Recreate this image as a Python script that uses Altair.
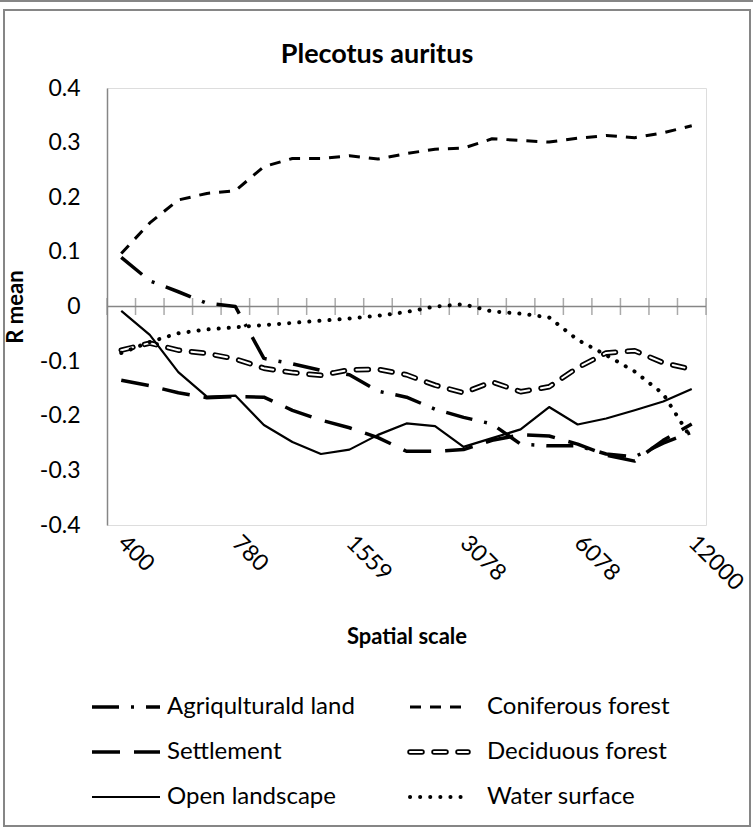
import json
import altair as alt
import pandas as pd

# ---------------- data ----------------
title_text = "Plecotus auritus"
x_title = "Spatial scale"
y_title = "R mean"
scale_labels = ["400", "780", "1559", "3078", "6078", "12000"]
label_every = 4
n_cat = 21
y_ticks = [-0.4, -0.3, -0.2, -0.1, 0.0, 0.1, 0.2, 0.3, 0.4]

series_names = ["Agriqulturald land", "Coniferous forest", "Settlement",
                "Deciduous forest", "Open landscape", "Water surface"]

agri = [0.090, 0.047, 0.027, 0.006, 0.000, -0.095, -0.105, -0.117, -0.125, -0.155, -0.166,
        -0.188, -0.203, -0.215, -0.252, -0.255, -0.255, -0.270, -0.275, -0.250, -0.230]
conif = [0.097, 0.153, 0.195, 0.207, 0.212, 0.256, 0.271, 0.271, 0.276, 0.270, 0.280,
         0.288, 0.290, 0.307, 0.304, 0.301, 0.308, 0.313, 0.309, 0.318, 0.331]
settle = [-0.135, -0.145, -0.158, -0.167, -0.165, -0.166, -0.190, -0.208, -0.222, -0.240, -0.265,
          -0.265, -0.262, -0.245, -0.235, -0.237, -0.252, -0.272, -0.283, -0.245, -0.215]
decid = [-0.080, -0.067, -0.080, -0.086, -0.096, -0.113, -0.121, -0.126, -0.116, -0.115, -0.125,
         -0.144, -0.158, -0.138, -0.156, -0.147, -0.112, -0.085, -0.081, -0.103, -0.115]
openl = [-0.008, -0.052, -0.120, -0.165, -0.163, -0.217, -0.248, -0.270, -0.262, -0.235, -0.214,
         -0.219, -0.257, -0.241, -0.225, -0.184, -0.216, -0.205, -0.190, -0.174, -0.151]
water = [-0.085, -0.065, -0.049, -0.042, -0.038, -0.034, -0.030, -0.026, -0.022, -0.017, -0.010,
         0.000, 0.004, -0.009, -0.013, -0.020, -0.061, -0.089, -0.119, -0.160, -0.243]

series_values = [agri, conif, settle, decid, openl, water]

rows = []
for name, vals in zip(series_names, series_values):
    for i, v in enumerate(vals):
        rows.append({"series": name, "idx": i, "value": v})
df = pd.DataFrame(rows)

# ---------------- styles / layout ----------------
FONT = "Lato"
GRAY = "#868686"
W, H = 599, 437
LEFT, TOP = 107, 88
CANVAS_W, CANVAS_H = 753, 832

styles = {
    "Agriqulturald land": dict(strokeWidth=3.5, strokeDash=[27, 12, 3, 12], strokeCap="butt"),
    "Coniferous forest": dict(strokeWidth=3, strokeDash=[11, 9], strokeCap="butt"),
    "Settlement": dict(strokeWidth=3.5, strokeDash=[28, 14], strokeCap="butt"),
    "Deciduous forest": dict(strokeWidth=5.5, strokeDash=[12, 12], strokeCap="round"),
    "Open landscape": dict(strokeWidth=2.2, strokeCap="butt"),
    "Water surface": dict(strokeWidth=4, strokeDash=[0.1, 10], strokeCap="round"),
}
decid_inner = dict(strokeWidth=2, strokeDash=[12, 12], strokeCap="round")

label_expr = f"{json.dumps(scale_labels)}[round(datum.value / {label_every})]"

x_enc = alt.X(
    "idx:Q",
    scale=alt.Scale(domain=[-0.5, n_cat - 0.5], nice=False, zero=False),
    axis=alt.Axis(
        values=list(range(0, n_cat, label_every)),
        labelExpr=label_expr,
        labelAngle=45, labelAlign="left", labelBaseline="middle",
        labelPadding=14, labelFont=FONT, labelFontSize=23, labelColor="black",
        domain=False, ticks=False, grid=False,
        title=x_title, titleFont=FONT, titleFontSize=22, titleFontWeight="bold",
        titleColor="black", titleY=111, titleBaseline="middle",
    ),
)
y_enc = alt.Y(
    "value:Q",
    scale=alt.Scale(domain=[-0.4, 0.4], nice=False),
    axis=alt.Axis(
        values=y_ticks,
        labelExpr="datum.value == 0 ? '0' : (datum.value < 0 ? '-' : '') + format(abs(datum.value), '.1f')",
        labelFont=FONT, labelFontSize=23, labelColor="black", labelPadding=27,
        domainColor=GRAY, domainWidth=1.5, ticks=False, grid=False,
        title=y_title, titleFont=FONT, titleFontSize=22, titleFontWeight="bold",
        titleColor="black", titleX=-92, titleY=H / 2, titleAngle=-90,
        titleAlign="center", titleBaseline="middle",
    ),
)

one = pd.DataFrame({"k": [0]})

layers = []

# chart frame
layers.append(
    alt.Chart(one).mark_rect(fill=None, stroke=GRAY, strokeWidth=2).encode(
        x=alt.value(4 - LEFT), x2=alt.value(750 - LEFT),
        y=alt.value(10 - TOP), y2=alt.value(826 - TOP),
    )
)
layers.append(
    alt.Chart(one).mark_rule(stroke=GRAY, strokeWidth=2).encode(
        x=alt.value(0 - LEFT), x2=alt.value(CANVAS_W - LEFT), y=alt.value(1 - TOP)
    )
)

# title
layers.append(
    alt.Chart(pd.DataFrame({"t": [title_text]})).mark_text(
        font=FONT, fontSize=27, fontWeight="bold", color="black",
        align="center", baseline="middle",
    ).encode(x=alt.value(377 - LEFT), y=alt.value(55 - TOP), text="t:N")
)

# horizontal category axis at zero with crossing ticks
layers.append(
    alt.Chart(one).mark_rule(color=GRAY, strokeWidth=1.5).encode(
        x=alt.datum(-0.5), x2=alt.datum(n_cat - 0.5), y=alt.datum(0)
    )
)
bounds = pd.DataFrame({"idx": [k - 0.5 for k in range(n_cat + 1)]})
layers.append(
    alt.Chart(bounds).mark_tick(orient="vertical", size=17, thickness=1.5, color=GRAY).encode(
        x=x_enc, y=alt.datum(0)
    )
)

# data lines
for name in series_names:
    sub = df[df.series == name]
    layers.append(
        alt.Chart(sub).mark_line(color="black", strokeJoin="round", **styles[name]).encode(
            x=x_enc, y=y_enc
        )
    )
    if name == "Deciduous forest":
        layers.append(
            alt.Chart(sub).mark_line(color="white", strokeJoin="round", **decid_inner).encode(
                x=x_enc, y=y_enc
            )
        )

# legend (2 columns x 3 rows)
leg_rows_y = [707, 752, 797]
leg_sym_x = [(92, 160), (410, 468)]
leg_text_x = [167, 487]
for i, name in enumerate(series_names):
    r, c = divmod(i, 2)
    yy = leg_rows_y[r] - TOP
    x0, x1 = leg_sym_x[c][0] - LEFT, leg_sym_x[c][1] - LEFT
    d = pd.DataFrame({"series": [name]})
    layers.append(
        alt.Chart(d).mark_rule(color="black", **styles[name]).encode(
            x=alt.value(x0), x2=alt.value(x1), y=alt.value(yy)
        )
    )
    if name == "Deciduous forest":
        layers.append(
            alt.Chart(d).mark_rule(color="white", **decid_inner).encode(
                x=alt.value(x0), x2=alt.value(x1), y=alt.value(yy)
            )
        )
    layers.append(
        alt.Chart(d).mark_text(align="left", baseline="middle", font=FONT, fontSize=24,
                               color="black").encode(
            x=alt.value(leg_text_x[c] - LEFT), y=alt.value(yy), text="series:N"
        )
    )

chart = alt.layer(*layers).properties(
    width=W, height=H,
    autosize=alt.AutoSizeParams(type="none"),
    padding={"left": LEFT, "top": TOP, "right": CANVAS_W - LEFT - W,
             "bottom": CANVAS_H - TOP - H},
).configure_view(strokeWidth=0).configure(background="white")

chart.save("out.html", embed_options={"renderer": "svg", "actions": False})
